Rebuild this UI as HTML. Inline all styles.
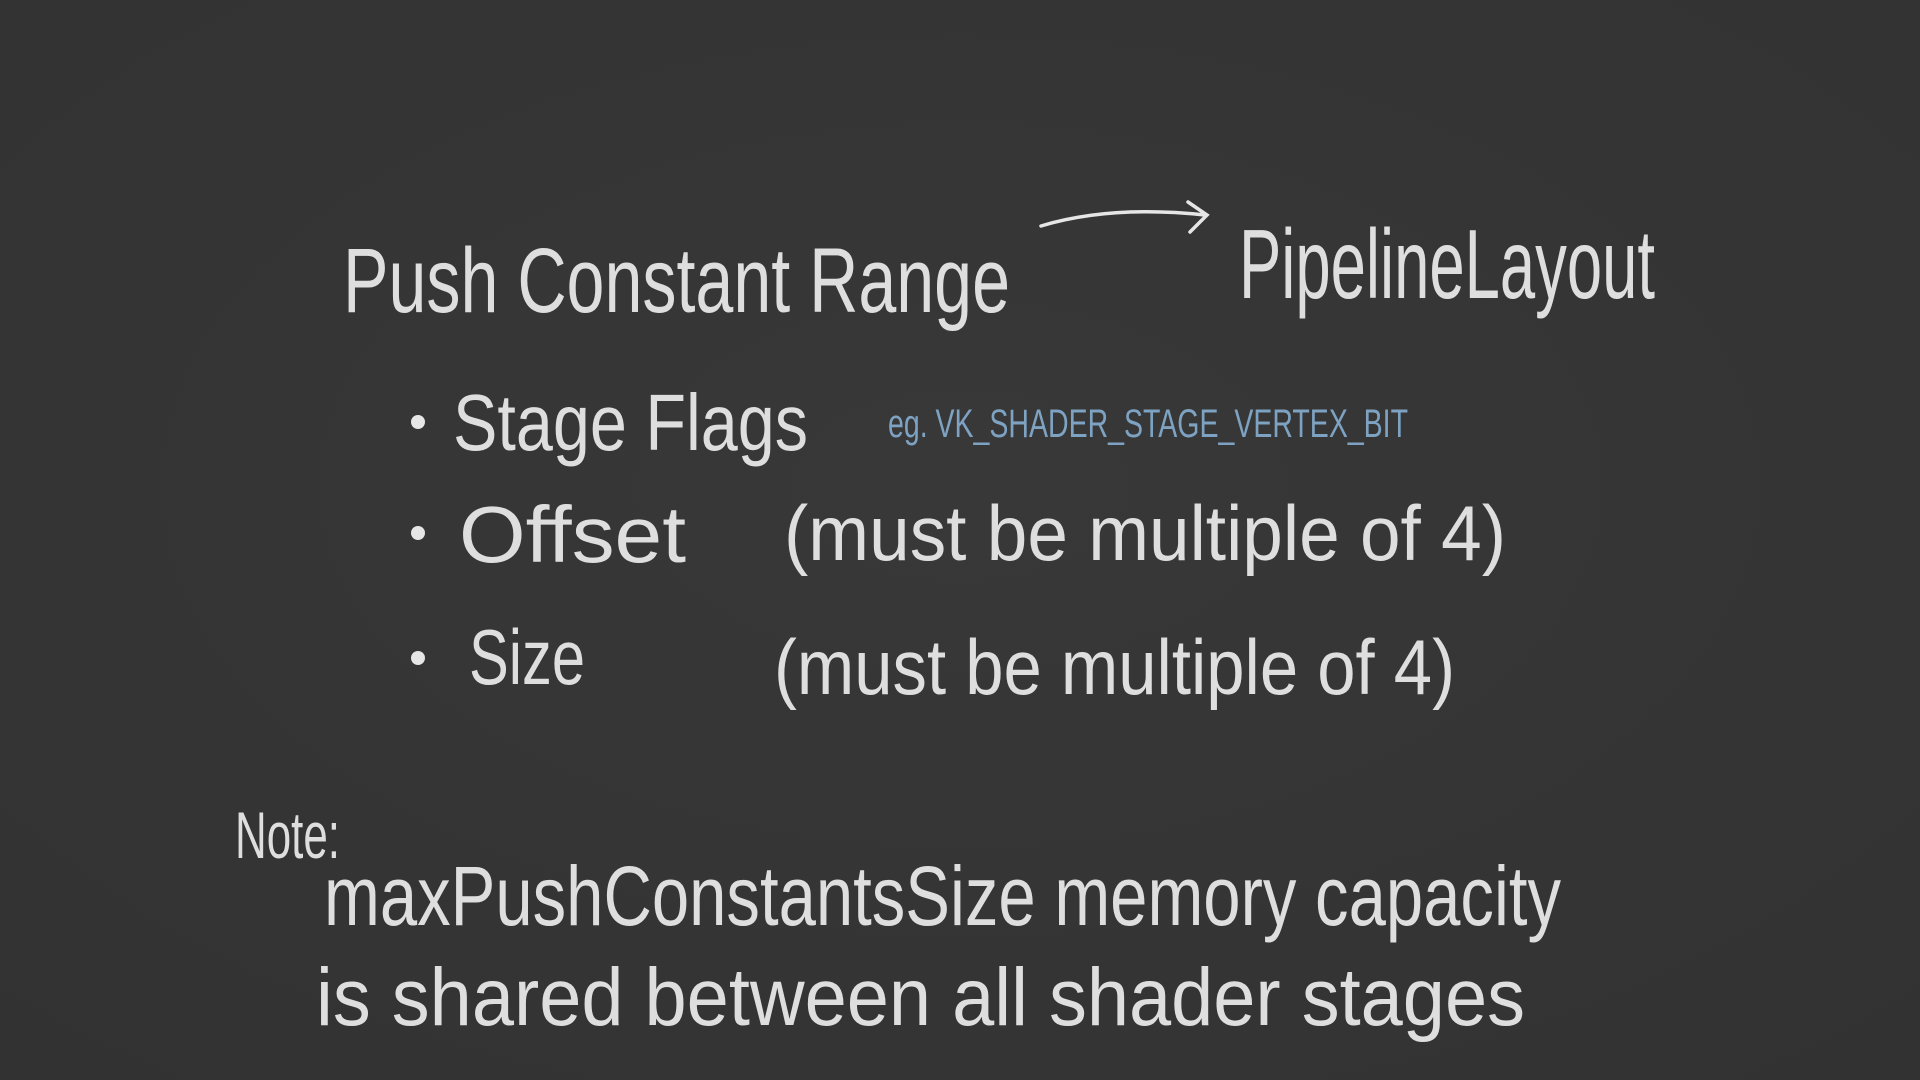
<!DOCTYPE html>
<html><head><meta charset="utf-8">
<style>
html,body{margin:0;padding:0;background:#363636;width:1920px;height:1080px;overflow:hidden}
svg{display:block}
text{font-family:"Liberation Sans",sans-serif;fill:#dedede;font-weight:normal}
</style></head>
<body>
<svg width="1920" height="1080" viewBox="0 0 1920 1080">
<defs>
<radialGradient id="bg" cx="50%" cy="45%" r="75%">
<stop offset="0" stop-color="#383838"/><stop offset="1" stop-color="#323232"/>
</radialGradient>
</defs>
<rect width="1920" height="1080" fill="url(#bg)"/>

<text x="343" y="312" font-size="92" textLength="667" lengthAdjust="spacingAndGlyphs">Push Constant Range</text>
<path d="M1041 226 Q1110 205 1205 215 M1188 202 L1207 215 L1190 232" stroke="#e6e6e6" stroke-width="3.5" fill="none" stroke-linecap="round"/>
<text x="1239" y="298" font-size="98" textLength="416" lengthAdjust="spacingAndGlyphs">PipelineLayout</text>

<circle cx="418" cy="422" r="7" fill="#e6e6e6"/>
<text x="453" y="450" font-size="80" textLength="355" lengthAdjust="spacingAndGlyphs">Stage Flags</text>
<text x="888" y="437" font-size="40" textLength="520" lengthAdjust="spacingAndGlyphs" style="fill:#7ea2c2">eg. VK_SHADER_STAGE_VERTEX_BIT</text>

<circle cx="418" cy="533" r="7" fill="#e6e6e6"/>
<text x="459" y="562" font-size="80" textLength="227" lengthAdjust="spacingAndGlyphs">Offset</text>
<text x="784" y="560" font-size="78" textLength="722" lengthAdjust="spacingAndGlyphs">(must  be  multiple  of  4)</text>

<circle cx="418" cy="658" r="7" fill="#e6e6e6"/>
<text x="469" y="684" font-size="78" textLength="116" lengthAdjust="spacingAndGlyphs">Size</text>
<text x="774" y="694" font-size="78" textLength="681" lengthAdjust="spacingAndGlyphs">(must  be  multiple  of  4)</text>

<text x="235" y="858" font-size="66" textLength="105" lengthAdjust="spacingAndGlyphs">Note:</text>
<text x="324" y="925" font-size="84" textLength="1237" lengthAdjust="spacingAndGlyphs">maxPushConstantsSize   memory capacity</text>
<text x="316" y="1025" font-size="82" textLength="1209" lengthAdjust="spacingAndGlyphs">is   shared   between   all   shader   stages</text>
</svg>
</body></html>
